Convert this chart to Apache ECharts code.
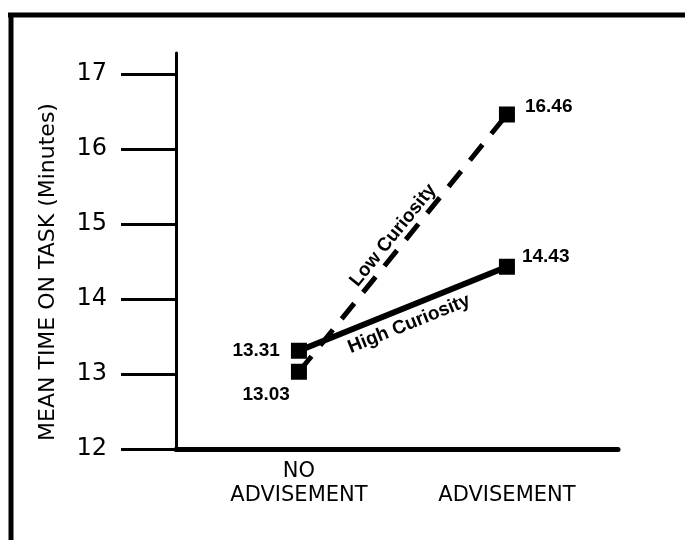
<!DOCTYPE html>
<html><head><meta charset="utf-8">
<script src="https://cdn.jsdelivr.net/npm/echarts@6/dist/echarts.min.js"></script>
<style>html,body{margin:0;padding:0;background:#fff}#c{width:685px;height:540px}</style>
</head><body><div id="c"></div>
<script>
// ---- data ----
const categories = ['NO\nADVISEMENT', 'ADVISEMENT'];
const seriesNames = ['Low Curiosity', 'High Curiosity'];
const lowCuriosity = [13.03, 16.46];
const highCuriosity = [13.31, 14.43];
const yTicks = [12, 13, 14, 15, 16, 17];
const yAxisTitle = 'MEAN TIME ON TASK (Minutes)';

// ---- styling ----
const numFont = {fontFamily: 'Liberation Sans, Arial, sans-serif', fontWeight: 'bold', fontSize: 19, color: '#000'};
const lowLabelStyle = [
  {position: 'left', distance: 1, offset: [0, 23]},
  {position: 'right', distance: 10, offset: [0, -8]}
];
const highLabelStyle = [
  {position: 'left', distance: 11, offset: [0, 0]},
  {position: 'right', distance: 7, offset: [0, -10]}
];
const build = (vals, styles) => vals.map((v, i) => ({
  value: [i, v],
  label: Object.assign({show: true, formatter: String(v.toFixed(2))}, numFont, styles[i])
}));

const chart = echarts.init(document.getElementById('c'));
chart.setOption({
  animation: false,
  backgroundColor: '#fff',
  grid: {left: 176, right: 67, top: 53, bottom: 91, containLabel: false, outerBoundsMode: 'none'},
  xAxis: {
    type: 'value', min: -0.591, max: 1.534,
    axisLine: {show: true, onZero: false, lineStyle: {color: '#000', width: 5}},
    axisTick: {show: false},
    splitLine: {show: false},
    axisLabel: {
      customValues: [0, 1],
      formatter: v => categories[Math.round(v)],
      verticalAlign: 'bottom', lineHeight: 24, margin: 59,
      fontSize: 21, fontFamily: 'DejaVu Sans', color: '#000'
    }
  },
  yAxis: {
    type: 'value', min: 12, max: 17.28,
    axisLine: {show: true, onZero: false, lineStyle: {color: '#000', width: 3}},
    axisTick: {show: true, customValues: yTicks, inside: false, length: 55, lineStyle: {color: '#000', width: 3}},
    splitLine: {show: false},
    axisLabel: {customValues: yTicks, margin: 69, fontSize: 24, fontFamily: 'DejaVu Sans', color: '#000'}
  },
  series: [
    {
      name: seriesNames[0], type: 'line',
      data: build(lowCuriosity, lowLabelStyle),
      symbol: 'rect', symbolSize: 16,
      itemStyle: {color: '#000'},
      lineStyle: {color: '#000', width: 5, type: [20, 14], cap: 'butt'},
      markLine: {
        silent: true, symbol: ['none', 'none'],
        lineStyle: {color: 'rgba(0,0,0,0)', width: 0},
        label: Object.assign({show: true, position: 'middle', distance: 3, formatter: seriesNames[0]}, numFont, {fontSize: 19}),
        data: [[{coord: [0, lowCuriosity[0]]}, {coord: [1, lowCuriosity[1]]}]]
      }
    },
    {
      name: seriesNames[1], type: 'line',
      data: build(highCuriosity, highLabelStyle),
      symbol: 'rect', symbolSize: 16,
      itemStyle: {color: '#000'},
      lineStyle: {color: '#000', width: 6},
      markLine: {
        silent: true, symbol: ['none', 'none'],
        lineStyle: {color: 'rgba(0,0,0,0)', width: 0},
        label: Object.assign({show: true, position: 'insideMiddleBottom', distance: 7, formatter: seriesNames[1]}, numFont, {fontSize: 19}),
        data: [[{coord: [0, highCuriosity[0]]}, {coord: [1, highCuriosity[1]]}]]
      }
    }
  ],
  graphic: [
    {type: 'text', x: 48, y: 272, rotation: Math.PI / 2,
     style: {text: yAxisTitle, fontSize: 22, fontFamily: 'DejaVu Sans', fill: '#000', align: 'center', verticalAlign: 'middle'}},
    {type: 'line', shape: {x1: 8, y1: 15, x2: 685, y2: 15}, style: {stroke: '#000', lineWidth: 5}},
    {type: 'line', shape: {x1: 11, y1: 13, x2: 11, y2: 540}, style: {stroke: '#000', lineWidth: 5}}
  ]
});
</script>
</body></html>
